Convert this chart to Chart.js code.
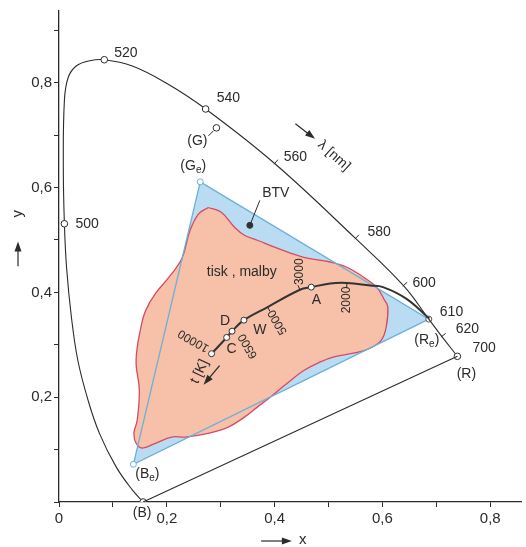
<!DOCTYPE html>
<html>
<head>
<meta charset="utf-8">
<script src="https://cdn.jsdelivr.net/npm/chart.js@4.4.1/dist/chart.umd.min.js"></script>
<style>
  html, body { margin: 0; background: #fff; }
  #wrap { width: 526px; height: 547px; }
</style>
</head>
<body>
<div id="wrap"><canvas id="cie"></canvas></div>
<script>
// spectral locus, from (B) round to (R)
const locusX = [0.156, 0.136, 0.106, 0.075, 0.054, 0.035, 0.023, 0.014, 0.010, 0.008, 0.010, 0.017, 0.032, 0.057,
                0.084, 0.136, 0.198, 0.272, 0.400, 0.550, 0.639, 0.686, 0.710, 0.739];
const locusY = [0.000, 0.023, 0.067, 0.131, 0.194, 0.270, 0.353, 0.448, 0.531, 0.639, 0.766, 0.810, 0.832, 0.842,
                0.844, 0.832, 0.800, 0.750, 0.646, 0.503, 0.413, 0.349, 0.316, 0.278];
const locusNm = ['B', '', '', '', '', '', '', '', '500', '', '', '', '', '',
                 '520', '', '', '540', '560', '580', '600', '610', '620', '700'];
const circleNm = ['B', '500', '520', '540', '700'];
const tickNm = ['560', '580', '600', '620'];

// TV primaries triangle (BTV): Ge, Re, Be
const gamutX = [0.262, 0.686, 0.138];
const gamutY = [0.611, 0.349, 0.072];
const gamutName = ['(G_e)', '(R_e)', '(B_e)'];

// print / paint gamut ("tisk, malby")
const printX = [0.277, 0.301, 0.326, 0.344, 0.369, 0.406, 0.454, 0.503, 0.534, 0.565, 0.589, 0.604, 0.610, 0.607,
                0.598, 0.576, 0.546, 0.510, 0.484, 0.454, 0.424, 0.393, 0.369, 0.344, 0.314, 0.277, 0.234, 0.209,
                0.179, 0.154, 0.143, 0.139, 0.145, 0.149, 0.143, 0.152, 0.161, 0.179, 0.204, 0.228, 0.243, 0.259, 0.277];
const printY = [0.562, 0.553, 0.524, 0.509, 0.499, 0.484, 0.467, 0.458, 0.448, 0.429, 0.410, 0.385, 0.372, 0.334,
                0.309, 0.293, 0.284, 0.277, 0.267, 0.251, 0.227, 0.201, 0.182, 0.162, 0.143, 0.131, 0.124, 0.124,
                0.112, 0.103, 0.112, 0.131, 0.156, 0.213, 0.270, 0.334, 0.366, 0.398, 0.429, 0.465, 0.518, 0.550, 0.562];

// Planck locus t [K]
const planckX = [0.283, 0.311, 0.321, 0.343, 0.387, 0.447, 0.468, 0.503, 0.534, 0.577, 0.601, 0.644, 0.687];
const planckY = [0.283, 0.314, 0.326, 0.347, 0.372, 0.405, 0.410, 0.417, 0.418, 0.413, 0.410, 0.388, 0.350];
const planckName = ['10000', 'C', 'D', 'W', '5000', '3000', 'A', '', '2000', '', '', '', ''];
const planckCircle = ['10000', 'C', 'D', 'W', 'A'];

// green primary (G) and the BTV marker
const greenX = [0.292], greenY = [0.714];
const btvX = [0.354], btvY = [0.528];

const ink = '#2b2b2b';
const font = '"Liberation Sans", Arial, sans-serif';

const pts = (xs, ys) => xs.map((x, i) => ({ x: x, y: ys[i] }));
const gamutClosed = pts(gamutX.concat(gamutX[0]), gamutY.concat(gamutY[0]));
const comma = v => v.toFixed(1).replace('.', ',');
const nmAt = nm => locusNm.indexOf(nm);
const tAt = nm => planckName.indexOf(nm);

// text notes, anchored on a series point with a pixel offset
const notes = [
  { s: 'locus', i: nmAt('500'), dx: 11, dy: 0, t: '500', a: 'left' },
  { s: 'locus', i: nmAt('520'), dx: 10, dy: -7, t: '520', a: 'left' },
  { s: 'locus', i: nmAt('540'), dx: 11, dy: -11, t: '540', a: 'left' },
  { s: 'locus', i: nmAt('560'), dx: 9, dy: -6, t: '560', a: 'left' },
  { s: 'locus', i: nmAt('580'), dx: 12, dy: -6, t: '580', a: 'left' },
  { s: 'locus', i: nmAt('600'), dx: 9, dy: -2, t: '600', a: 'left' },
  { s: 'locus', i: nmAt('610'), dx: 11, dy: -7, t: '610', a: 'left' },
  { s: 'locus', i: nmAt('620'), dx: 14, dy: -7, t: '620', a: 'left' },
  { s: 'locus', i: nmAt('700'), dx: 15, dy: -8, t: '700', a: 'left' },
  { s: 'locus', i: nmAt('700'), dx: 9, dy: 18, t: '(R)' },
  { s: 'locus', i: nmAt('B'), dx: -1, dy: 11, t: '(B)' },
  { s: 'gamut', i: 0, dx: -7, dy: -16, t: gamutName[0] },
  { s: 'gamut', i: 1, dx: -2, dy: 21, t: gamutName[1] },
  { s: 'gamut', i: 2, dx: 14, dy: 10, t: gamutName[2] },
  { s: 'green', i: 0, dx: -19, dy: 13, t: '(G)' },
  { s: 'btv', i: 0, dx: 26, dy: -32, t: 'BTV' },
  { s: 'planck', i: tAt('A'), dx: 5, dy: 13, t: 'A' },
  { s: 'planck', i: tAt('W'), dx: 16, dy: 10, t: 'W' },
  { s: 'planck', i: tAt('D'), dx: -7, dy: -10, t: 'D' },
  { s: 'planck', i: tAt('C'), dx: 5, dy: 12, t: 'C' },
  { s: 'planck', i: tAt('10000'), dx: -18, dy: -13, t: '10000', r: -150, size: 12 },
  { s: 'planck', i: tAt('D'), dx: 16, dy: 15, t: '6500', r: -120, size: 12 },
  { s: 'planck', i: tAt('5000'), dx: 10, dy: 15, t: '5000', r: -120, size: 12 },
  { s: 'planck', i: tAt('3000'), dx: 0, dy: -18, t: '3000', r: -90, size: 12 },
  { s: 'planck', i: tAt('2000'), dx: 0, dy: 17, t: '2000', r: -90, size: 12 },
  { s: 'planck', i: tAt('10000'), dx: -12, dy: 18, t: 't [K]', r: -65 }
];
const series = {
  locus: [locusX, locusY], gamut: [gamutX, gamutY], planck: [planckX, planckY],
  green: [greenX, greenY], btv: [btvX, btvY]
};

function richText(ctx, s, x, y, align, size) {
  const parts = s.split(/_(\w)/);
  const big = size + 'px ' + font, small = Math.round(size * 0.7) + 'px ' + font;
  let w = 0;
  parts.forEach((p, k) => { ctx.font = k % 2 ? small : big; w += ctx.measureText(p).width; });
  let cx = align === 'left' ? x : x - w / 2;
  ctx.textAlign = 'left';
  ctx.textBaseline = 'middle';
  parts.forEach((p, k) => {
    ctx.font = k % 2 ? small : big;
    ctx.fillText(p, cx, k % 2 ? y + size * 0.3 : y);
    cx += ctx.measureText(p).width;
  });
}

function arrow(ctx, x1, y1, x2, y2) {
  const a = Math.atan2(y2 - y1, x2 - x1);
  ctx.beginPath();
  ctx.moveTo(x1, y1);
  ctx.lineTo(x2 - 6 * Math.cos(a), y2 - 6 * Math.sin(a));
  ctx.stroke();
  ctx.beginPath();
  ctx.moveTo(x2, y2);
  ctx.lineTo(x2 - 10 * Math.cos(a) + 3.5 * Math.sin(a), y2 - 10 * Math.sin(a) - 3.5 * Math.cos(a));
  ctx.lineTo(x2 - 10 * Math.cos(a) - 3.5 * Math.sin(a), y2 - 10 * Math.sin(a) + 3.5 * Math.cos(a));
  ctx.closePath();
  ctx.fill();
}

const notesPlugin = {
  id: 'notes',
  afterDatasetsDraw(chart) {
    const ctx = chart.ctx;
    const sx = chart.scales.x, sy = chart.scales.y;
    const P = (x, y) => [sx.getPixelForValue(x), sy.getPixelForValue(y)];
    const normal = (xs, ys, i) => {
      const a = P(xs[i - 1], ys[i - 1]), b = P(xs[i + 1], ys[i + 1]);
      const dx = b[0] - a[0], dy = b[1] - a[1], L = Math.hypot(dx, dy);
      return [dy / L, -dx / L];
    };
    ctx.save();
    ctx.strokeStyle = ink;
    ctx.fillStyle = ink;
    ctx.lineWidth = 1;

    // wavelength ticks, pointing out of the locus
    locusNm.forEach((nm, i) => {
      if (!tickNm.includes(nm)) return;
      const p = P(locusX[i], locusY[i]), n = normal(locusX, locusY, i);
      ctx.beginPath();
      ctx.moveTo(p[0] - n[0], p[1] - n[1]);
      ctx.lineTo(p[0] + 5 * n[0], p[1] + 5 * n[1]);
      ctx.stroke();
    });
    // temperature ticks
    planckName.forEach((nm, i) => {
      if (!['5000', '3000', '2000'].includes(nm)) return;
      const side = nm === '3000' ? 1 : -1;
      const p = P(planckX[i], planckY[i]), n = normal(planckX, planckY, i);
      ctx.beginPath();
      ctx.moveTo(p[0], p[1]);
      ctx.lineTo(p[0] + side * 5 * n[0], p[1] + side * 5 * n[1]);
      ctx.stroke();
    });

    // leader lines for (G) and BTV
    const g = P(greenX[0], greenY[0]);
    ctx.beginPath(); ctx.moveTo(g[0] - 3, g[1] + 3); ctx.lineTo(g[0] - 8, g[1] + 8); ctx.stroke();
    const b = P(btvX[0], btvY[0]);
    ctx.beginPath(); ctx.moveTo(b[0], b[1]); ctx.lineTo(b[0] + 10, b[1] - 25); ctx.stroke();

    // text notes
    notes.forEach(n => {
      const d = series[n.s];
      const p = P(d[0][n.i], d[1][n.i]);
      ctx.save();
      ctx.translate(p[0] + n.dx, p[1] + n.dy);
      ctx.rotate((n.r || 0) * Math.PI / 180);
      richText(ctx, n.t, 0, 0, n.a || 'center', n.size || 14);
      ctx.restore();
    });
    // t [K] arrow
    const t0 = P(planckX[0], planckY[0]);
    ctx.lineWidth = 1.3;
    arrow(ctx, t0[0] + 8, t0[1] + 12, t0[0] - 8, t0[1] + 31);

    // "tisk , malby"
    const tm = P(0.339, 0.438);
    richText(ctx, 'tisk , malby', tm[0], tm[1], 'center', 14);

    // lambda [nm] with arrow
    const la = P(0.4385, 0.722), lb = P(0.475, 0.693), lt = P(0.510, 0.661);
    ctx.lineWidth = 1.2;
    arrow(ctx, la[0], la[1], lb[0], lb[1]);
    ctx.save();
    ctx.translate(lt[0], lt[1]);
    ctx.rotate(42 * Math.PI / 180);
    richText(ctx, '\u03bb [nm]', 0, 0, 'center', 14);
    ctx.restore();

    // axis titles
    const ya = sy.getPixelForValue(0.45), yb = sy.getPixelForValue(0.497), yt = sy.getPixelForValue(0.55);
    ctx.lineWidth = 1.2;
    arrow(ctx, 18, ya, 18, yb);
    ctx.save();
    ctx.translate(18, yt);
    ctx.rotate(-Math.PI / 2);
    richText(ctx, 'y', 0, 0, 'center', 15);
    ctx.restore();
    const xa = sx.getPixelForValue(0.375), xb = sx.getPixelForValue(0.432), xt = sx.getPixelForValue(0.452);
    arrow(ctx, xa, 541, xb, 541);
    richText(ctx, 'x', xt, 540, 'center', 15);
    ctx.restore();
  }
};

new Chart(document.getElementById('cie'), {
  type: 'scatter',
  data: {
    datasets: [
      { // blue BTV fill
        data: gamutClosed, showLine: true, fill: 'shape', order: 10,
        backgroundColor: '#b9dcf2', borderWidth: 0, pointRadius: 0, tension: 0
      },
      { // print gamut
        data: pts(printX, printY), showLine: true, fill: 'shape', order: 9,
        backgroundColor: '#f6c0a9', borderColor: '#d64a63', borderWidth: 1.3, pointRadius: 0, tension: 0.4
      },
      { // BTV outline with primaries
        data: gamutClosed, showLine: true, fill: false, order: 8,
        borderColor: '#6cb0da', borderWidth: 1.3, tension: 0,
        pointRadius: [3, 3, 3, 0], pointBackgroundColor: '#fff',
        pointBorderColor: ['#6cb0da', '#555', '#6cb0da', '#6cb0da'], pointBorderWidth: 1
      },
      { // spectral locus
        data: pts(locusX, locusY), showLine: true, fill: false, order: 7,
        borderColor: ink, borderWidth: 1.1, tension: 0.4,
        pointRadius: locusNm.map(n => circleNm.includes(n) ? 3.3 : 0),
        pointBackgroundColor: '#fff', pointBorderColor: ink, pointBorderWidth: 1
      },
      { // purple line
        data: pts([locusX[locusX.length - 1], locusX[0]], [locusY[locusY.length - 1], locusY[0]]),
        showLine: true, fill: false, order: 6, borderColor: ink, borderWidth: 1.1, pointRadius: 0
      },
      { // Planck locus
        data: pts(planckX, planckY), showLine: true, fill: false, order: 5,
        borderColor: '#333', borderWidth: 2, tension: 0.4,
        pointRadius: planckName.map(n => planckCircle.includes(n) ? 3 : 0),
        pointBackgroundColor: '#fff', pointBorderColor: '#333', pointBorderWidth: 1
      },
      { // (G)
        data: pts(greenX, greenY), order: 4,
        pointRadius: 3.3, pointBackgroundColor: '#fff', pointBorderColor: ink, pointBorderWidth: 1
      },
      { // BTV dot
        data: pts(btvX, btvY), order: 3,
        pointRadius: 3, pointBackgroundColor: '#333', pointBorderColor: '#333'
      }
    ]
  },
  options: {
    animation: false,
    responsive: true,
    maintainAspectRatio: false,
    layout: { padding: { top: 10, right: 0, left: 0, bottom: 0 } },
    plugins: { legend: { display: false }, tooltip: { enabled: false } },
    scales: {
      x: {
        type: 'linear', min: 0, max: 0.857,
        afterFit: s => { s.height = 45; },
        border: { color: ink, width: 1.3 },
        grid: { drawOnChartArea: false, tickLength: 5, color: ink },
        ticks: {
          stepSize: 0.1, includeBounds: false, padding: 3, color: ink, maxRotation: 0, autoSkip: false,
          font: { family: font, size: 15 },
          callback: v => Math.round(v * 10) % 2 === 0 ? (v < 0.05 ? '0' : comma(v)) : ''
        }
      },
      y: {
        type: 'linear', min: 0, max: 0.937,
        afterFit: s => { s.width = 59; },
        border: { color: ink, width: 1.3 },
        grid: { drawOnChartArea: false, tickLength: 5, color: ink },
        ticks: {
          stepSize: 0.1, includeBounds: false, padding: 2, color: ink, autoSkip: false,
          font: { family: font, size: 15 },
          callback: v => (Math.round(v * 10) % 2 === 0 && v > 0.05) ? comma(v) : ''
        }
      }
    }
  },
  plugins: [notesPlugin]
});
</script>
</body>
</html>
